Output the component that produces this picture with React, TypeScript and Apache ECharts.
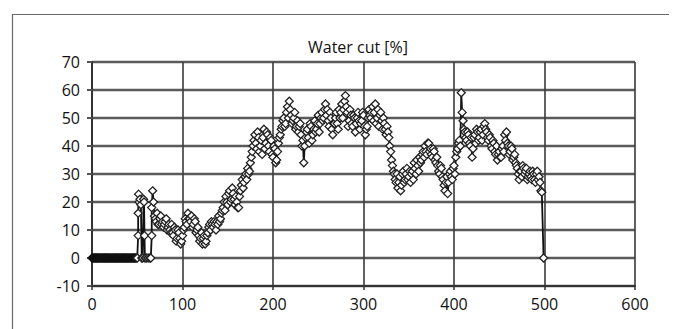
import React, { useEffect, useRef } from "react";
import * as echarts from "echarts";

const chartTitle = "Water cut [%]";

// Zero stretch at the start of the record
const zeroX = [0, 1, 2, 3, 4, 5, 6, 7, 8, 9, 10, 11, 12, 13, 14, 15, 16, 17, 18, 19, 20, 21, 22, 23, 24,
  25, 26, 27, 28, 29, 30, 31, 32, 33, 34, 35, 36, 37, 38, 39, 40, 41, 42, 43, 44, 45, 46, 47, 48, 49];
const zeroY = [0, 0, 0, 0, 0, 0, 0, 0, 0, 0, 0, 0, 0, 0, 0, 0, 0, 0, 0, 0, 0, 0, 0, 0, 0,
  0, 0, 0, 0, 0, 0, 0, 0, 0, 0, 0, 0, 0, 0, 0, 0, 0, 0, 0, 0, 0, 0, 0, 0, 0];

// Early spikes
const spikeX = [50, 51, 51, 51.5, 52, 53, 54, 55, 56, 57, 57.5, 58, 58.5, 60, 62, 64, 65, 66, 66, 67];
const spikeY = [0, 8, 16, 22.8, 20, 21, 19, 0, 0, 21, 20, 8, 0, 0, 0, 0, 0, 8, 18, 24];

// Main record, even x from 68 in steps of 2
const mainEvenStartX = 68;
const mainY = [
  20, 14, 16, 12, 15, 13, 12, 14, 11, 10,
  12, 8, 10, 7, 9, 5, 8, 11, 13, 16,
  14, 15, 12, 13, 10, 8, 7, 5, 8, 6,
  9, 12, 13, 11, 12, 13, 15, 14, 17, 20,
  22, 19, 24, 21, 23, 19, 20, 18, 24, 28,
  27, 30, 32, 31, 36, 40, 44, 39, 43, 40,
  37, 46, 41, 44, 38, 42, 36, 39, 35, 41,
  44, 47, 50, 48, 54, 56, 51, 49, 52, 47,
  45, 48, 40, 34, 43, 46, 41, 47, 44, 49,
  46, 51, 48, 52, 50, 55, 53, 47, 50, 44,
  48, 52, 46, 50, 55, 53, 58, 52, 49, 51,
  47, 50, 48, 52, 46, 49, 51, 44, 47, 53,
  50, 54, 52, 48, 53, 51, 49, 50, 46, 47,
  43, 38, 33, 30, 27, 25, 29, 26, 31, 28,
  32, 29, 27, 31, 34, 30, 33, 36, 35, 38,
  40, 37, 41, 39, 36, 38, 34, 33, 30, 32,
  28, 24, 29, 27, 31, 28, 33, 36, 39, 42,
  59, 49, 45, 42, 44, 40, 36, 43, 41, 45,
  43, 46, 44, 48, 45, 42, 43, 39, 41, 37,
  35, 38, 36, 40, 44, 45, 40, 38, 39, 36,
  34, 32, 28, 31, 33, 30, 32, 29, 31, 28,
  30, 27, 31, 29, 24,
];

// Main record, odd x from 69 in steps of 2
const mainOddStartX = 69;
const mainYOdd = [
  15, 13, 12, 14, 12, 11, 13, 10, 12, 9,
  9, 11, 6, 10, 7, 6, 10, 14, 12, 14,
  13, 11, 14, 9, 11, 6, 9, 7, 5, 8,
  11, 10, 12, 13, 10, 12, 13, 16, 18, 17,
  20, 23, 20, 25, 21, 22, 18, 22, 26, 25,
  29, 28, 30, 34, 38, 42, 41, 45, 38, 42,
  43, 39, 45, 40, 43, 37, 40, 34, 38, 43,
  46, 49, 47, 52, 50, 53, 48, 50, 46, 49,
  47, 44, 42, 40, 45, 43, 48, 42, 46, 45,
  48, 45, 50, 49, 53, 51, 49, 52, 46, 48,
  50, 48, 53, 52, 50, 56, 54, 47, 53, 48,
  51, 45, 50, 49, 48, 52, 47, 46, 50, 51,
  52, 49, 55, 50, 47, 52, 46, 48, 44, 45,
  40, 35, 31, 28, 30, 27, 24, 30, 27, 30,
  28, 31, 30, 28, 32, 35, 31, 34, 37, 36,
  38, 41, 38, 37, 39, 35, 36, 31, 33, 29,
  26, 27, 23, 30, 29, 32, 30, 38, 41, 40,
  52, 46, 43, 45, 41, 43, 39, 44, 46, 42,
  45, 42, 47, 46, 43, 44, 40, 42, 38, 40,
  37, 36, 39, 38, 42, 41, 37, 40, 35, 37,
  33, 30, 31, 29, 32, 31, 28, 30, 29, 31,
  28, 30, 28, 27,
];

// Final drop
const endX = [497, 499];
const endY = [23.5, 0];

export default function App() {
  const ref = useRef<HTMLDivElement>(null);

  useEffect(() => {
    if (!ref.current) return;
    const chart = echarts.init(ref.current, null, { renderer: "svg" });

    const data: any[] = [];
    zeroX.forEach((x, i) =>
      data.push({ value: [x, zeroY[i]], itemStyle: { color: "#111", borderColor: "#111" } })
    );
    spikeX.forEach((x, i) => data.push([x, spikeY[i]]));
    mainY.forEach((y, i) => {
      data.push([mainEvenStartX + 2 * i, y]);
      if (i < mainYOdd.length) data.push([mainOddStartX + 2 * i, mainYOdd[i]]);
    });
    endX.forEach((x, i) => data.push([x, endY[i]]));

    const font = "'Open Sans', 'Noto Sans', sans-serif";

    chart.setOption({
      animation: false,
      backgroundColor: "#ffffff",
      grid: { left: 84, right: 42, top: 54, bottom: 43, containLabel: false },
      graphic: [
        {
          type: "rect",
          z: -10,
          silent: true,
          shape: { x: 4.5, y: 6.5, width: 720, height: 400 },
          style: { fill: "transparent", stroke: "#6a6a6a", lineWidth: 1.2 },
        },
        {
          type: "text",
          x: 350,
          y: 39,
          style: {
            text: chartTitle,
            fill: "#111",
            font: `16px ${font}`,
            textAlign: "center",
            textVerticalAlign: "middle",
          },
        },
      ],
      xAxis: {
        type: "value",
        min: 0,
        max: 600,
        interval: 100,
        axisLine: { show: true, onZero: false, lineStyle: { color: "#333", width: 2 } },
        axisTick: { show: true, length: 4, lineStyle: { color: "#333", width: 1.5 } },
        axisLabel: { color: "#111", fontSize: 16, fontFamily: font, margin: 10 },
        splitLine: { show: true, lineStyle: { color: "#3a3a3a", width: 1.6 } },
      },
      yAxis: {
        type: "value",
        min: -10,
        max: 70,
        interval: 10,
        axisLine: { show: true, onZero: false, lineStyle: { color: "#333", width: 2 } },
        axisTick: { show: true, length: 5, lineStyle: { color: "#555", width: 2 } },
        axisLabel: { color: "#111", fontSize: 16, fontFamily: font, margin: 12 },
        splitLine: { show: true, lineStyle: { color: "#5a5a5a", width: 2.4 } },
      },
      series: [
        {
          type: "line",
          data,
          symbol: "diamond",
          symbolSize: 8,
          showAllSymbol: true,
          lineStyle: { color: "#111", width: 1.8 },
          itemStyle: { color: "#ffffff", borderColor: "#222", borderWidth: 1.3 },
          z: 5,
        },
      ],
    });

    return () => chart.dispose();
  }, []);

  return <div ref={ref} style={{ width: 669, height: 321 }} />;
}
